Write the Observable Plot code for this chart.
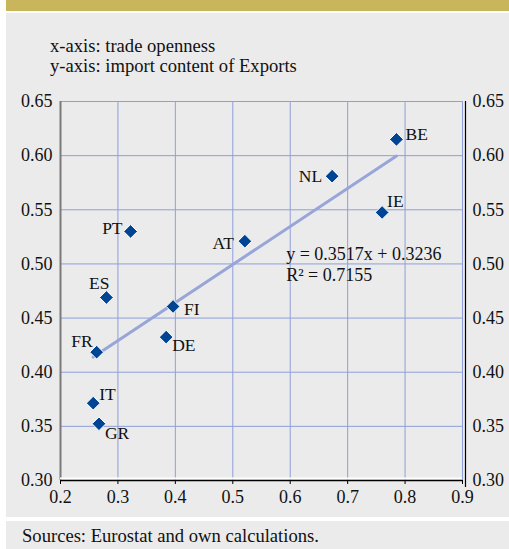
<!DOCTYPE html>
<html>
<head>
<meta charset="utf-8">
<script src="https://cdn.jsdelivr.net/npm/d3@7"></script>
<script src="https://cdn.jsdelivr.net/npm/@observablehq/plot@0.6"></script>
<style>
  html, body { margin: 0; padding: 0; background: #ffffff; }
  body { width: 509px; height: 549px; position: relative; overflow: hidden;
         font-family: "Liberation Serif", "Times New Roman", serif; color: #111; }
  #band { position: absolute; left: 6px; top: 0; width: 503px; height: 11px; background: #c9b55b; }
  #panel { position: absolute; left: 6px; top: 13px; width: 503px; height: 504px; background: #ebebeb; }
  #title { position: absolute; left: 44px; top: 23px; font-size: 18.6px; line-height: 20px; }
  #chart { position: absolute; left: 0; top: 72px; }
  #footer { position: absolute; left: 6px; top: 521px; width: 503px; height: 28px; background: #ebebeb; }
  #caption { position: absolute; left: 16px; top: 5px; font-size: 18.6px; line-height: 20px; }
  #chart svg text { font-family: "Liberation Serif", "Times New Roman", serif; }
</style>
</head>
<body>
<div id="band"></div>
<div id="panel">
  <div id="title">x-axis: trade openness<br>y-axis: import content of Exports</div>
  <div id="chart"></div>
</div>
<div id="footer"><div id="caption">Sources: Eurostat and own calculations.</div></div>
<script>
// ---- data ----
const countries = ["BE", "NL", "IE", "PT", "AT", "ES", "FI", "FR", "DE", "IT", "GR"];
const tradeOpenness = [0.785, 0.673, 0.760, 0.322, 0.521, 0.280, 0.396, 0.263, 0.384, 0.257, 0.267];
const importContent = [0.615, 0.581, 0.5475, 0.530, 0.521, 0.469, 0.4607, 0.4185, 0.4324, 0.3714, 0.3524];
const xTicks = [0.2, 0.3, 0.4, 0.5, 0.6, 0.7, 0.8, 0.9];
const yTicks = [0.30, 0.35, 0.40, 0.45, 0.50, 0.55, 0.60, 0.65];
const slope = 0.3517;
const intercept = 0.3236;
const r2 = 0.7155;
const equationLines = [`y = ${slope}x + ${intercept}`, `R² = ${r2}`];

// ---- layout of labels (not data) ----
const labelPlacement = {
  BE: {anchor: "start", dx: 9, dy: -5},
  NL: {anchor: "end", dx: -10, dy: 0},
  IE: {anchor: "start", dx: 5, dy: -11},
  PT: {anchor: "end", dx: -8, dy: -3},
  AT: {anchor: "end", dx: -11, dy: 2},
  ES: {anchor: "end", dx: 3, dy: -14},
  FI: {anchor: "start", dx: 11, dy: 3},
  FR: {anchor: "end", dx: -4, dy: -11},
  DE: {anchor: "start", dx: 6, dy: 8},
  IT: {anchor: "start", dx: 6, dy: -9},
  GR: {anchor: "start", dx: 6, dy: 10}
};

const points = countries.map((c, i) => ({country: c, x: tradeOpenness[i], y: importContent[i]}));
const xExt = d3.extent(tradeOpenness);
const trend = xExt.map(x => ({x, y: slope * x + intercept}));

const gridColor = "#8f9fdb";
const markerColor = "#004494";

const labelMarks = points.map(p => {
  const L = labelPlacement[p.country];
  return Plot.text([p], {x: "x", y: "y", text: "country", textAnchor: L.anchor,
    dx: L.dx, dy: L.dy, fill: "#111", fontSize: 17.5});
});

const chart = Plot.plot({
  width: 503,
  height: 430,
  marginLeft: 54,
  marginRight: 47,
  marginTop: 16,
  marginBottom: 35,
  style: {background: "transparent", fontFamily: "'Liberation Serif', 'Times New Roman', serif", fontSize: "17px", color: "#111"},
  x: {domain: [0.2, 0.9], ticks: xTicks, label: null},
  y: {domain: [0.30, 0.65], ticks: yTicks, label: null},
  marks: [
    Plot.gridX(xTicks, {stroke: gridColor, strokeOpacity: 1, strokeWidth: 1}),
    Plot.gridY(yTicks, {stroke: gridColor, strokeOpacity: 1, strokeWidth: 1}),
    Plot.ruleX([0.2], {stroke: "#7a7a7a", strokeWidth: 2}),
    Plot.ruleX([0.9], {stroke: "#000", strokeWidth: 1.2, dx: 3, insetBottom: -7}),
    Plot.ruleY([0.30], {stroke: "#ffffff", strokeWidth: 2, dy: -2}),
    Plot.ruleY([0.30], {stroke: "#000", strokeWidth: 1.5}),
    Plot.axisX(xTicks, {anchor: "bottom", tickSize: 4, tickPadding: 6, tickFormat: d3.format(".1f"), stroke: "#000", fill: "#111", fontSize: 18}),
    Plot.axisY(yTicks, {anchor: "left", tickSize: 0, tickPadding: 8, tickFormat: d3.format(".2f"), fill: "#111", fontSize: 18}),
    Plot.axisY(yTicks, {anchor: "right", tickSize: 0, tickPadding: 10, tickFormat: d3.format(".2f"), fill: "#111", fontSize: 18}),
    Plot.line(trend, {x: "x", y: "y", stroke: "#97a5d8", strokeWidth: 3}),
    Plot.dot(points, {x: "x", y: "y", symbol: "diamond2", r: 6.2, fill: markerColor, stroke: "#ffffff", strokeWidth: 1}),
    ...labelMarks,
    Plot.text([equationLines.join("\n")], {x: 0.593, y: 0.5004, text: d => d, textAnchor: "start", lineAnchor: "middle", lineHeight: 1.22, fill: "#111", fontSize: 18})
  ]
});
document.getElementById("chart").appendChild(chart);
</script>
</body>
</html>
